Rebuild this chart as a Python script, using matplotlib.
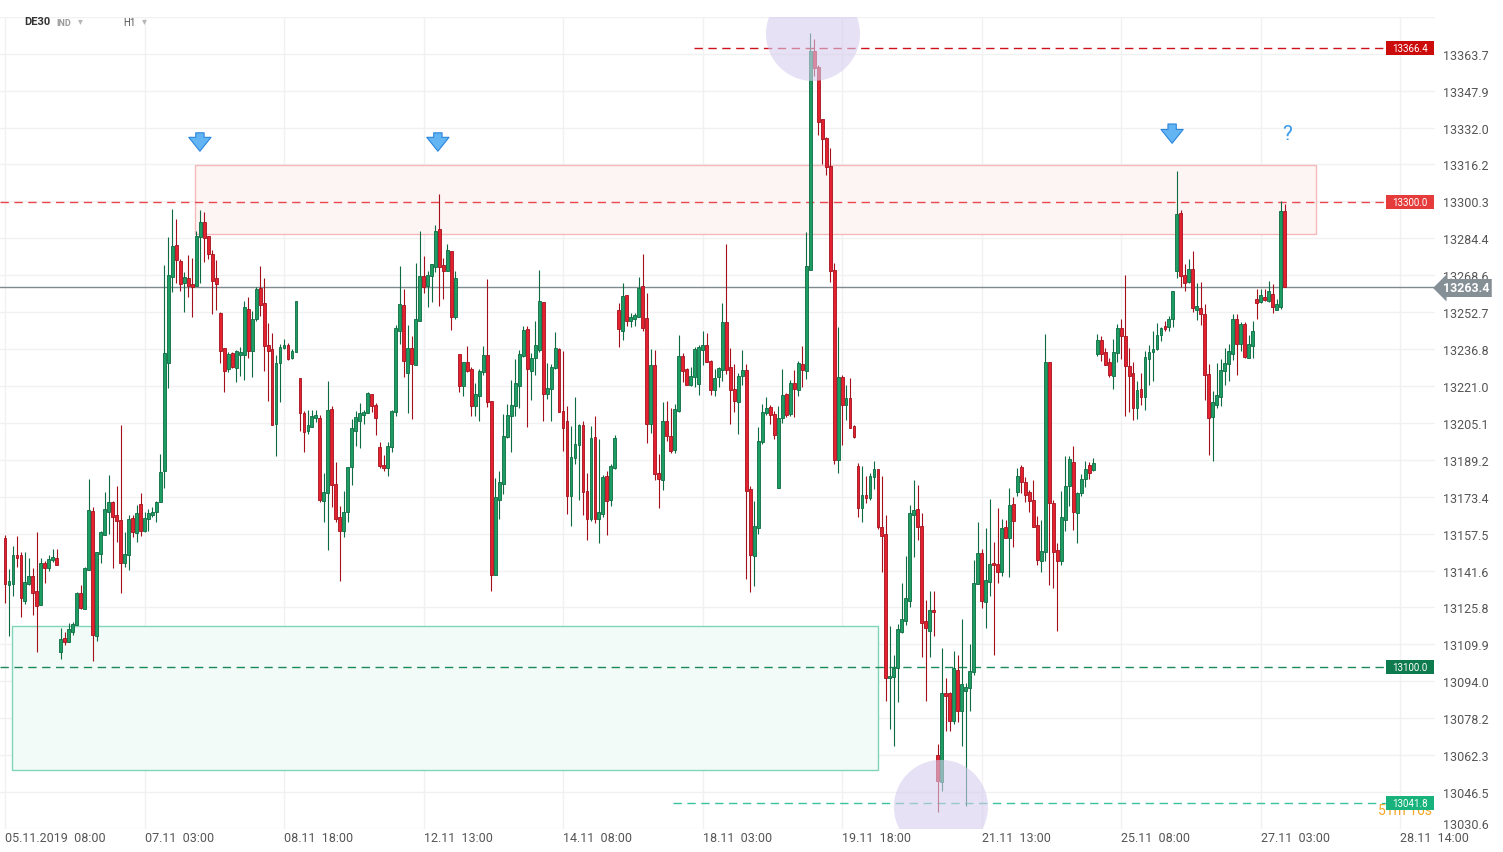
import matplotlib
matplotlib.use("Agg")
import matplotlib.pyplot as plt
import numpy as np
from matplotlib.patches import Rectangle, Ellipse

# ---- data: DE30 H1 candles -----------------------------------------------
opens = [
    13155.5, 13135.2, 13135.9, 13148.3, 13148.3, 13128.7, 13135.9, 13139.1, 13132.7, 13126.9,
    13144.9, 13142.5, 13146.1, 13147.0, 13106.7, 13112.6, 13111.0, 13115.4, 13118.0, 13132.0,
    13125.2, 13142.0, 13167.2, 13113.4, 13148.7, 13157.1, 13166.9, 13171.2, 13165.6, 13163.4,
    13144.8, 13148.4, 13164.1, 13157.6, 13170.2, 13158.5, 13163.6, 13165.7, 13166.7, 13170.9,
    13184.2, 13230.7, 13268.0, 13281.6, 13274.7, 13265.1, 13267.3, 13264.7, 13264.1, 13285.2,
    13291.6, 13285.5, 13277.6, 13267.3, 13252.3, 13237.2, 13228.2, 13235.3, 13228.9, 13234.4,
    13234.4, 13254.1, 13235.9, 13249.6, 13263.1, 13256.7, 13238.6, 13236.9, 13204.7, 13230.7,
    13237.2, 13238.6, 13232.8, 13235.4, 13224.5, 13209.3, 13201.4, 13203.2, 13207.0, 13207.1,
    13171.7, 13174.8, 13211.1, 13178.9, 13164.6, 13158.8, 13166.7, 13186.1, 13201.8, 13206.1,
    13208.6, 13209.2, 13217.4, 13212.8, 13194.9, 13186.8, 13185.6, 13194.6, 13209.6, 13244.4,
    13255.8, 13226.5, 13237.2, 13230.1, 13249.1, 13268.2, 13263.9, 13268.4, 13272.1, 13288.5,
    13273.0, 13270.5, 13278.9, 13250.7, 13234.6, 13220.9, 13231.1, 13228.3, 13212.5, 13216.5,
    13226.9, 13234.3, 13214.4, 13139.5, 13172.1, 13178.9, 13198.9, 13208.0, 13212.2, 13221.1,
    13233.7, 13245.5, 13227.6, 13232.8, 13236.6, 13256.9, 13217.5, 13219.7, 13228.6, 13236.9,
    13210.3, 13205.7, 13173.5, 13189.8, 13195.7, 13204.2, 13175.7, 13163.8, 13198.9, 13163.6,
    13166.0, 13182.2, 13172.1, 13185.6, 13253.6, 13244.4, 13260.1, 13249.1, 13249.7, 13250.7,
    13263.9, 13250.2, 13204.5, 13229.8, 13183.7, 13180.6, 13206.1, 13199.4, 13193.5, 13210.2,
    13233.7, 13228.3, 13221.2, 13224.9, 13221.7, 13236.5, 13238.7, 13231.8, 13219.4, 13224.7,
    13228.0, 13248.3, 13229.0, 13219.7, 13214.2, 13225.2, 13227.8, 13176.7, 13148.0, 13160.0,
    13197.0, 13209.5, 13211.8, 13209.1, 13177.1, 13207.2, 13217.6, 13209.0, 13222.3, 13219.4,
    13230.3, 13227.5, 13270.7, 13364.8, 13358.0, 13335.6, 13327.6, 13315.6, 13270.7, 13189.1,
    13224.7, 13212.6, 13215.7, 13203.6, 13186.6, 13168.5, 13174.1, 13172.8, 13181.7, 13185.3,
    13160.2, 13157.3, 13095.3, 13095.7, 13099.6, 13115.4, 13120.1, 13128.6, 13165.3, 13168.0,
    13160.9, 13119.8, 13115.8, 13124.7, 13062.4, 13050.8, 13089.0, 13089.0, 13077.1, 13099.0,
    13081.1, 13090.0, 13091.0, 13097.9, 13135.8, 13149.1, 13128.2, 13136.6, 13144.9, 13144.5,
    13141.2, 13160.2, 13155.6, 13170.2, 13175.2, 13186.0, 13179.6, 13175.2, 13171.9, 13161.2,
    13145.9, 13149.5, 13231.1, 13170.6, 13150.4, 13145.9, 13163.5, 13177.8, 13188.1, 13166.3,
    13175.0, 13181.0, 13187.1, 13184.9, 13234.8, 13240.8, 13235.5, 13231.2, 13225.2, 13235.0,
    13246.0, 13242.4, 13229.7, 13226.6, 13211.4, 13219.7, 13216.1, 13232.6, 13235.5, 13236.9,
    13242.7, 13246.6, 13246.3, 13249.6, 13270.6, 13295.4, 13268.8, 13265.6, 13271.3, 13253.8,
    13254.5, 13251.9, 13226.2, 13207.6, 13213.0, 13216.1, 13227.2, 13230.4, 13234.8, 13249.8,
    13238.8, 13247.4, 13232.9, 13238.1, 13258.4, 13257.0, 13259.4, 13257.7, 13260.6, 13253.8,
    13255.1, 13296.4,
]
highs = [
    13156.9, 13142.3, 13152.3, 13156.6, 13149.7, 13149.7, 13147.0, 13142.5, 13158.4, 13147.0,
    13145.8, 13148.3, 13150.9, 13150.9, 13117.0, 13115.4, 13119.1, 13119.7, 13132.3, 13135.2,
    13143.3, 13181.0, 13168.8, 13149.4, 13158.8, 13175.3, 13182.5, 13171.7, 13178.1, 13204.0,
    13158.1, 13165.3, 13165.3, 13169.8, 13175.0, 13166.7, 13168.1, 13168.8, 13171.4, 13191.7,
    13273.0, 13285.2, 13297.1, 13292.7, 13275.6, 13269.9, 13277.3, 13275.8, 13287.8, 13296.8,
    13295.6, 13285.6, 13279.4, 13275.3, 13252.9, 13237.5, 13235.4, 13235.7, 13236.4, 13237.6,
    13257.5, 13259.1, 13253.2, 13263.4, 13272.5, 13267.5, 13248.1, 13243.8, 13234.3, 13239.0,
    13241.2, 13239.5, 13236.9, 13257.4, 13224.5, 13210.3, 13210.5, 13210.8, 13210.8, 13208.5,
    13183.6, 13222.9, 13212.2, 13188.1, 13169.2, 13176.0, 13186.1, 13206.6, 13210.3, 13213.6,
    13210.6, 13218.5, 13217.5, 13213.6, 13196.8, 13191.3, 13196.8, 13210.8, 13247.0, 13272.5,
    13262.7, 13247.2, 13242.6, 13273.8, 13287.4, 13276.7, 13270.5, 13273.3, 13290.0, 13303.5,
    13276.0, 13282.0, 13278.9, 13270.3, 13234.6, 13231.1, 13238.0, 13229.0, 13222.3, 13228.1,
    13238.0, 13267.0, 13214.6, 13181.4, 13184.3, 13208.9, 13213.2, 13223.7, 13232.6, 13236.4,
    13246.7, 13246.7, 13235.2, 13248.7, 13270.8, 13257.2, 13230.8, 13230.4, 13244.1, 13237.2,
    13235.9, 13212.5, 13203.7, 13216.4, 13204.7, 13205.7, 13183.6, 13203.7, 13208.2, 13198.2,
    13182.5, 13184.6, 13187.5, 13199.9, 13256.7, 13265.3, 13260.1, 13252.3, 13252.3, 13268.0,
    13277.7, 13261.0, 13236.9, 13236.4, 13191.8, 13214.2, 13214.7, 13211.3, 13213.1, 13242.8,
    13235.3, 13228.6, 13229.0, 13237.6, 13238.4, 13244.7, 13243.9, 13232.1, 13228.3, 13229.3,
    13256.7, 13282.2, 13237.2, 13230.3, 13226.7, 13236.4, 13230.3, 13177.8, 13171.5, 13203.3,
    13213.1, 13216.2, 13212.6, 13210.2, 13212.3, 13228.3, 13218.1, 13223.6, 13227.8, 13231.8,
    13238.1, 13287.2, 13372.9, 13370.1, 13358.8, 13335.6, 13327.9, 13323.2, 13274.0, 13246.3,
    13225.6, 13221.2, 13224.4, 13204.1, 13187.9, 13186.6, 13182.4, 13183.6, 13188.8, 13185.3,
    13182.4, 13165.5, 13117.9, 13105.3, 13118.7, 13136.3, 13147.7, 13169.8, 13180.6, 13178.4,
    13166.4, 13128.9, 13133.0, 13133.0, 13067.0, 13108.3, 13095.4, 13089.5, 13107.1, 13105.4,
    13120.8, 13093.3, 13110.0, 13146.2, 13162.7, 13150.9, 13159.9, 13172.3, 13154.0, 13168.5,
    13163.8, 13163.5, 13177.1, 13173.1, 13185.8, 13187.1, 13181.7, 13176.4, 13180.6, 13165.0,
    13163.4, 13243.3, 13231.1, 13171.9, 13153.5, 13175.7, 13191.0, 13191.0, 13195.3, 13175.2,
    13183.2, 13188.7, 13188.3, 13190.0, 13243.4, 13242.4, 13237.2, 13232.9, 13241.2, 13247.4,
    13249.8, 13268.5, 13237.2, 13231.4, 13223.3, 13226.6, 13235.9, 13238.6, 13244.4, 13248.1,
    13246.3, 13248.9, 13251.2, 13261.7, 13313.3, 13296.7, 13273.4, 13275.6, 13278.8, 13265.3,
    13265.6, 13256.3, 13230.4, 13218.6, 13230.9, 13232.6, 13237.2, 13239.1, 13251.9, 13251.9,
    13248.4, 13248.4, 13242.7, 13248.7, 13262.7, 13262.7, 13262.7, 13265.9, 13264.9, 13258.4,
    13300.7, 13299.3,
]
lows = [
    13127.7, 13113.6, 13130.5, 13143.3, 13121.8, 13127.2, 13135.2, 13122.7, 13106.7, 13126.9,
    13136.3, 13141.3, 13145.5, 13143.8, 13103.7, 13109.8, 13111.0, 13113.9, 13118.0, 13124.9,
    13124.9, 13142.0, 13102.9, 13111.5, 13144.8, 13157.1, 13157.4, 13142.6, 13153.8, 13131.8,
    13143.3, 13142.0, 13155.9, 13154.0, 13156.6, 13158.1, 13158.5, 13164.6, 13162.4, 13170.9,
    13177.0, 13220.0, 13261.3, 13265.3, 13262.0, 13252.9, 13259.1, 13250.5, 13264.1, 13265.3,
    13274.4, 13275.6, 13252.0, 13253.8, 13230.7, 13218.3, 13226.9, 13228.8, 13222.6, 13225.2,
    13223.7, 13232.8, 13224.7, 13248.7, 13250.9, 13227.6, 13214.7, 13204.0, 13190.7, 13214.2,
    13236.9, 13232.3, 13232.6, 13235.4, 13201.4, 13192.4, 13200.4, 13203.2, 13205.4, 13170.9,
    13162.4, 13150.6, 13168.8, 13162.4, 13137.3, 13156.2, 13162.7, 13178.6, 13195.3, 13194.2,
    13204.7, 13209.2, 13209.6, 13200.1, 13185.6, 13184.6, 13182.2, 13192.4, 13207.9, 13239.0,
    13224.7, 13209.3, 13206.8, 13230.1, 13249.1, 13260.8, 13254.8, 13257.2, 13270.0, 13255.5,
    13258.4, 13270.5, 13245.2, 13249.7, 13218.5, 13216.5, 13226.9, 13208.0, 13208.0, 13205.7,
    13225.5, 13211.8, 13132.7, 13139.5, 13163.8, 13174.5, 13198.5, 13192.7, 13208.0, 13211.3,
    13233.3, 13203.2, 13215.1, 13225.5, 13235.4, 13206.1, 13215.4, 13206.1, 13228.3, 13209.6,
    13193.2, 13166.0, 13160.7, 13187.5, 13171.9, 13165.6, 13154.9, 13163.1, 13162.1, 13153.3,
    13164.6, 13157.1, 13169.5, 13185.3, 13237.9, 13240.9, 13246.7, 13246.2, 13246.7, 13250.5,
    13244.8, 13196.5, 13200.9, 13180.6, 13168.5, 13176.2, 13197.5, 13192.3, 13192.0, 13209.8,
    13222.5, 13221.2, 13220.9, 13220.5, 13217.3, 13229.8, 13231.4, 13217.3, 13216.8, 13220.5,
    13223.3, 13226.0, 13204.5, 13209.9, 13200.4, 13221.2, 13138.1, 13132.4, 13134.8, 13157.5,
    13196.2, 13208.7, 13204.5, 13198.2, 13177.1, 13205.2, 13207.7, 13208.2, 13207.7, 13216.5,
    13220.5, 13224.1, 13270.7, 13354.1, 13328.8, 13316.6, 13311.5, 13265.8, 13187.4, 13183.7,
    13195.4, 13206.4, 13203.0, 13198.6, 13164.7, 13162.3, 13170.6, 13172.1, 13176.7, 13159.5,
    13141.2, 13085.6, 13073.5, 13066.0, 13085.2, 13114.6, 13118.2, 13125.8, 13147.3, 13154.9,
    13104.4, 13085.6, 13104.4, 13113.3, 13037.7, 13047.0, 13072.5, 13072.8, 13075.7, 13076.4,
    13066.0, 13040.3, 13081.4, 13096.5, 13135.8, 13125.5, 13116.9, 13130.8, 13105.4, 13136.3,
    13139.4, 13155.6, 13139.0, 13151.9, 13173.5, 13175.0, 13171.2, 13167.0, 13160.5, 13143.8,
    13141.2, 13145.9, 13135.5, 13134.0, 13115.8, 13143.8, 13158.8, 13169.5, 13159.2, 13153.3,
    13173.7, 13177.6, 13181.0, 13184.5, 13234.0, 13231.9, 13230.2, 13224.8, 13219.5, 13231.2,
    13232.6, 13208.2, 13209.9, 13206.2, 13206.6, 13213.0, 13210.8, 13221.2, 13222.9, 13236.6,
    13240.5, 13244.5, 13244.5, 13246.5, 13267.5, 13263.5, 13262.0, 13265.3, 13252.7, 13249.4,
    13247.0, 13215.1, 13191.5, 13188.9, 13211.4, 13212.5, 13221.2, 13223.3, 13232.2, 13225.9,
    13236.2, 13233.0, 13232.9, 13232.9, 13249.6, 13256.7, 13257.7, 13257.0, 13252.4, 13253.8,
    13254.1, 13263.4,
]
closes = [
    13135.9, 13137.0, 13148.3, 13147.1, 13129.8, 13136.6, 13139.1, 13132.0, 13126.2, 13144.9,
    13142.8, 13146.6, 13147.4, 13143.8, 13112.2, 13111.0, 13116.5, 13118.7, 13132.0, 13125.5,
    13142.8, 13167.6, 13114.1, 13149.4, 13158.1, 13168.1, 13170.9, 13164.6, 13162.8, 13144.8,
    13148.7, 13163.8, 13158.1, 13166.4, 13158.5, 13164.1, 13166.4, 13166.9, 13170.9, 13183.9,
    13235.2, 13268.7, 13281.0, 13275.3, 13265.0, 13267.9, 13264.1, 13263.7, 13285.5, 13291.6,
    13284.8, 13277.6, 13266.3, 13264.6, 13236.2, 13227.6, 13234.7, 13229.0, 13236.0, 13235.7,
    13254.9, 13235.9, 13249.7, 13262.7, 13255.9, 13238.3, 13236.2, 13204.4, 13230.8, 13237.6,
    13238.6, 13232.4, 13235.9, 13257.4, 13209.2, 13201.1, 13204.2, 13208.0, 13208.5, 13172.1,
    13175.3, 13210.6, 13178.6, 13163.6, 13158.8, 13166.7, 13186.1, 13202.8, 13207.6, 13209.3,
    13209.6, 13218.0, 13212.2, 13207.1, 13186.5, 13185.6, 13195.0, 13210.3, 13245.8, 13256.1,
    13231.8, 13237.2, 13230.3, 13249.7, 13268.2, 13263.7, 13268.7, 13273.3, 13287.7, 13272.2,
    13270.5, 13279.5, 13250.7, 13267.3, 13220.9, 13231.1, 13227.3, 13212.5, 13217.4, 13227.5,
    13234.3, 13214.2, 13139.9, 13173.1, 13179.6, 13199.4, 13208.5, 13212.8, 13222.1, 13234.6,
    13245.1, 13228.1, 13233.0, 13238.6, 13257.5, 13217.5, 13220.1, 13229.0, 13237.3, 13209.9,
    13202.8, 13173.8, 13190.3, 13196.0, 13204.2, 13175.3, 13163.6, 13198.5, 13163.8, 13166.7,
    13181.7, 13171.7, 13186.5, 13198.5, 13245.5, 13259.5, 13248.7, 13250.5, 13251.5, 13263.3,
    13246.0, 13204.7, 13229.8, 13183.0, 13181.1, 13206.1, 13199.4, 13193.1, 13211.0, 13234.0,
    13227.2, 13221.6, 13225.2, 13236.9, 13237.6, 13238.7, 13231.4, 13219.4, 13224.4, 13228.6,
    13248.3, 13228.0, 13219.4, 13214.6, 13225.2, 13227.8, 13175.9, 13148.5, 13160.6, 13197.5,
    13209.9, 13211.3, 13208.7, 13199.7, 13207.2, 13217.0, 13208.7, 13222.3, 13219.7, 13230.9,
    13228.0, 13272.5, 13365.1, 13357.5, 13334.5, 13327.3, 13315.3, 13270.2, 13189.1, 13224.7,
    13212.6, 13215.7, 13203.0, 13198.9, 13168.5, 13174.0, 13172.8, 13182.4, 13185.3, 13160.5,
    13156.6, 13095.3, 13096.2, 13099.6, 13116.5, 13120.8, 13129.6, 13166.4, 13167.6, 13160.5,
    13119.1, 13116.8, 13124.7, 13123.7, 13051.3, 13089.0, 13087.8, 13077.1, 13099.6, 13081.1,
    13092.8, 13091.4, 13098.3, 13136.3, 13149.1, 13128.6, 13137.6, 13144.5, 13143.8, 13141.2,
    13159.9, 13155.6, 13169.8, 13163.1, 13182.4, 13179.6, 13174.2, 13171.6, 13160.5, 13146.3,
    13149.9, 13231.1, 13170.5, 13149.7, 13145.9, 13164.5, 13177.8, 13189.5, 13166.7, 13175.0,
    13181.0, 13185.4, 13183.6, 13187.8, 13240.8, 13234.8, 13230.2, 13225.5, 13235.5, 13246.0,
    13242.4, 13229.4, 13225.1, 13211.4, 13219.3, 13216.4, 13233.3, 13235.5, 13236.9, 13243.0,
    13245.8, 13245.3, 13249.8, 13261.7, 13294.9, 13268.2, 13265.3, 13271.3, 13254.7, 13255.5,
    13251.7, 13225.9, 13207.2, 13214.0, 13217.1, 13227.7, 13230.9, 13235.8, 13249.8, 13238.8,
    13247.4, 13233.3, 13239.1, 13244.5, 13256.5, 13259.9, 13258.1, 13261.6, 13255.1, 13256.0,
    13296.4, 13263.4,
]

# one date label every 35 bars
tick_labels = ["05.11.2019  08:00", "07.11  03:00", "08.11  18:00", "12.11  13:00",
               "14.11  08:00", "18.11  03:00", "19.11  18:00", "21.11  13:00",
               "25.11  08:00", "27.11  03:00", "28.11  14:00"]
price_ticks = [13030.6, 13046.5, 13062.3, 13078.2, 13094.0, 13109.9, 13125.8, 13141.6,
               13157.5, 13173.4, 13189.2, 13205.1, 13221.0, 13236.8, 13252.7, 13268.6,
               13284.4, 13300.3, 13316.2, 13332.0, 13347.9, 13363.7, 13379.6]

last_price = 13263.4
levels = [13366.4, 13300.0, 13100.0, 13041.8]
resistance_zone = (13286.3, 13316.0)
support_zone = (13055.9, 13117.8)

GREEN, GREEN_EDGE = "#1d9d63", "#0c6b40"
RED, RED_EDGE = "#e4222f", "#a3101c"
TEXT = "#555555"
GRID = "#f1f1f1"

W, H = 1503, 853


def fx(x):
    return x / W


def fy(y):
    return 1 - y / H


plt.rcParams["font.family"] = ["Roboto", "DejaVu Sans"]
fig = plt.figure(figsize=(W / 100, H / 100), dpi=100)
ax = fig.add_axes([0, 1 - 830 / H, 1435 / W, (830 - 18) / H])

o = np.array(opens)
h = np.array(highs)
l = np.array(lows)
c = np.array(closes)
x = np.arange(len(o))
up = c >= o

ax.set_xlim(-1.254, 358.75)
ax.set_ylim(13030.5, 13379.6)

# grid
for p in price_ticks:
    ax.axhline(p, color=GRID, lw=1, zorder=0)
for t in range(0, 351, 35):
    ax.axvline(t, color=GRID, lw=1, zorder=0)

# zones
ax.add_patch(Rectangle((47.7, resistance_zone[0]), 329.0 - 47.7,
                       resistance_zone[1] - resistance_zone[0],
                       fc="#fdf4f4", ec="#f6b9b9", lw=1, zorder=1))
ax.add_patch(Rectangle((1.76, support_zone[0]), 219.0 - 1.76,
                       support_zone[1] - support_zone[0],
                       fc="#f3fbf8", ec="#80d4b8", lw=1, zorder=1))

# horizontal levels
dash = (0, (6, 4))
ax.plot([-1.2, 346.5], [levels[1]] * 2, ls=dash, color="#e9474d", lw=1, zorder=2)
ax.plot([-1.2, 346.5], [levels[2]] * 2, ls=dash, color="#1a8a5a", lw=1, zorder=2)
ax.plot([172.8, 346.5], [levels[0]] * 2, ls=dash, color="#d0101a", lw=1, zorder=2)
ax.plot([167.6, 346.5], [levels[3]] * 2, ls=dash, color="#3cc29e", lw=1, zorder=2)
ax.axhline(last_price, color="#7d8a90", lw=1, zorder=2)

# candles
ax.vlines(x, l, h, colors=np.where(up, GREEN_EDGE, RED_EDGE), lw=0.8, zorder=3)
ax.bar(x, np.maximum(np.abs(c - o), 0.5), bottom=np.minimum(o, c), width=0.72,
       color=np.where(up, GREEN, RED), edgecolor=np.where(up, GREEN_EDGE, RED_EDGE),
       lw=0.6, zorder=4)

# highlight circles at the extremes
ax.add_patch(Ellipse((202.7, 13372.3), 23.6, 40.4, fc="#d6cdee", ec="none",
                     alpha=0.6, zorder=5))
ax.add_patch(Ellipse((234.8, 13040.0), 23.6, 40.4, fc="#d6cdee", ec="none",
                     alpha=0.6, zorder=5))

# blue arrows and question mark
for bx, ptop, pbot in [(48.9, 13331.0, 13320.7), (108.6, 13331.0, 13320.7),
                       (292.8, 13334.8, 13324.1)]:
    ax.annotate("", xy=(bx, pbot), xytext=(bx, ptop),
                arrowprops=dict(arrowstyle="simple,head_width=1.6,head_length=1.0,tail_width=0.6",
                                fc="#62b4f3", ec="#2a86dc", lw=0.8), zorder=6)
ax.text(321.6, 13329.3, "?", color="#3d9be9", fontsize=15, ha="center", va="center", zorder=6)

# axes styling
for s in ax.spines.values():
    s.set_visible(False)
ax.yaxis.tick_right()
ax.set_yticks(price_ticks[1:-1])
ax.set_yticklabels([f"{p:.1f}" for p in price_ticks[1:-1]])
ax.tick_params(axis="y", length=0, pad=6, labelsize=9, labelcolor=TEXT)
ax.set_xticks(range(0, 351, 35))
ax.set_xticklabels(tick_labels, ha="left")
ax.tick_params(axis="x", length=0, pad=1.5, labelsize=9, labelcolor=TEXT)
# bottom price label sits just above the lower edge
fig.text(fx(1443), fy(826), f"{price_ticks[0]:.1f}", fontsize=9, color=TEXT, va="center")

# level tags on the right (the countdown text is partly hidden by the last tag)
tag_colors = ["#cc0b0b", "#e53b3b", "#0e7b4e", "#18b37c"]
ax.text(fx(1378), fy(811), "51m 16s", transform=fig.transFigure, color="#f5a623",
        fontsize=10, ha="left", va="center", zorder=7, clip_on=False)
ytr = ax.get_yaxis_transform()
for p, col in zip(levels, tag_colors):
    ax.add_patch(Rectangle((1386 / 1435, p - 3.0), 48 / 1435, 6.0, transform=ytr,
                           fc=col, ec="none", zorder=8, clip_on=False))
    ax.text(1410 / 1435, p, f"{p:.1f}", transform=ytr, color="white", fontsize=7,
            ha="center", va="center", zorder=9)

fig.text(fx(1466), fy(289), f"{last_price:.1f}", color="white", fontsize=9, weight="bold",
         ha="center", va="center",
         bbox=dict(boxstyle="larrow,pad=0.2", fc="#858f96", ec="none"))

# header
fig.text(fx(24), fy(22), "DE30", fontsize=8, weight="bold", color="#333333", va="center")
fig.text(fx(56), fy(23), "IND", fontsize=6.5, weight="bold", color="#9a9a9a", va="center")
fig.text(fx(78), fy(21), "\u25be", fontsize=7, color="#b5b5b5", va="center")
fig.text(fx(123), fy(23), "H1", fontsize=7, color="#555555", va="center")
fig.text(fx(142), fy(21), "\u25be", fontsize=7, color="#b5b5b5", va="center")

fig.savefig("out.png", dpi=100, facecolor="white")
